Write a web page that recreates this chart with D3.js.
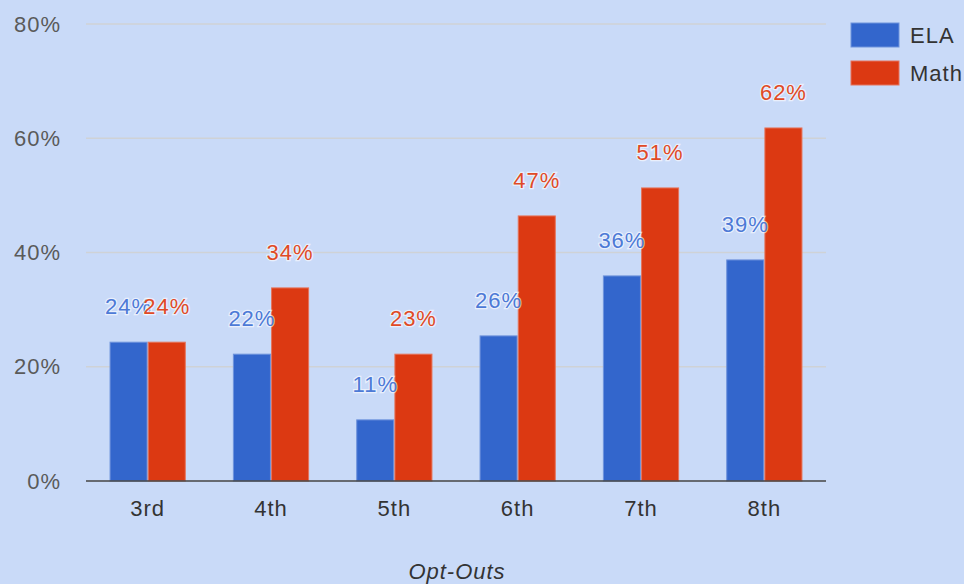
<!DOCTYPE html>
<html>
<head>
<meta charset="utf-8">
<script src="https://cdn.jsdelivr.net/npm/d3@7"></script>
<style>
  body { margin: 0; background: #c9daf8; }
  svg { display: block; font-family: "Liberation Sans", Arial, sans-serif; letter-spacing: 1px; }
</style>
</head>
<body>
<svg id="chart" width="964" height="584"></svg>
<script>
// chart data
const grades = ['3rd', '4th', '5th', '6th', '7th', '8th'];
const series = ['ELA', 'Math'];
const elaValues = [24.3, 22.2, 10.7, 25.4, 35.9, 38.7];
const mathValues = [24.3, 33.8, 22.2, 46.4, 51.3, 61.8];
const elaLabels = ['24%', '22%', '11%', '26%', '36%', '39%'];
const mathLabels = ['24%', '34%', '23%', '47%', '51%', '62%'];
const yTicks = [0, 20, 40, 60, 80];

const colors = { ELA: '#3366cc', Math: '#dc3912' };
const borders = { ELA: '#6f93dc', Math: '#e6735a' };
const labelColors = { ELA: '#4d7ad6', Math: '#e04a26' };

const svg = d3.select('#chart');
const W = 964, H = 584;
const margin = { top: 24, right: 138, bottom: 103, left: 86 };
const plotW = W - margin.left - margin.right;
const plotH = H - margin.top - margin.bottom;
const fs = 22;

svg.append('rect').attr('width', W).attr('height', H).attr('fill', '#c9daf8');

const g = svg.append('g').attr('transform', `translate(${margin.left},${margin.top})`);

const x = d3.scaleBand().domain(grades).range([0, plotW]).paddingInner(0.39).paddingOuter(0.195);
const xs = d3.scaleBand().domain(series).range([0, x.bandwidth()]).paddingInner(0.03);
const y = d3.scaleLinear().domain([0, 80]).range([plotH, 0]);

// gridlines
g.selectAll('line.grid')
  .data(yTicks.filter(d => d > 0))
  .join('line')
  .attr('class', 'grid')
  .attr('x1', 0).attr('x2', plotW)
  .attr('y1', d => y(d)).attr('y2', d => y(d))
  .attr('stroke', '#cfd2d6').attr('stroke-width', 1.5);

// y tick labels
g.selectAll('text.ytick')
  .data(yTicks)
  .join('text')
  .attr('class', 'ytick')
  .attr('x', -25)
  .attr('y', d => y(d))
  .attr('dy', '0.35em')
  .attr('text-anchor', 'end')
  .attr('font-size', fs)
  .attr('fill', '#5a5a5a')
  .text(d => d + '%');

const rows = grades.map((gr, i) => ({
  grade: gr,
  vals: [
    { key: 'ELA', v: elaValues[i], label: elaLabels[i] },
    { key: 'Math', v: mathValues[i], label: mathLabels[i] }
  ]
}));

const groups = g.selectAll('g.grade')
  .data(rows)
  .join('g')
  .attr('class', 'grade')
  .attr('transform', d => `translate(${x(d.grade)},0)`);

groups.selectAll('rect')
  .data(d => d.vals)
  .join('rect')
  .attr('x', d => xs(d.key))
  .attr('width', xs.bandwidth())
  .attr('y', d => y(d.v))
  .attr('height', d => plotH - y(d.v))
  .attr('fill', d => colors[d.key])
  .attr('stroke', d => borders[d.key])
  .attr('stroke-width', 1);

// baseline
g.append('line')
  .attr('x1', 0).attr('x2', plotW)
  .attr('y1', plotH).attr('y2', plotH)
  .attr('stroke', '#444').attr('stroke-width', 1.5);

// value labels with white halo
groups.selectAll('text.val')
  .data(d => d.vals)
  .join('text')
  .attr('class', 'val')
  .attr('x', d => xs(d.key) + xs.bandwidth() / 2)
  .attr('y', d => y(d.v) - 36)
  .attr('dy', '0.35em')
  .attr('text-anchor', 'middle')
  .attr('font-size', fs)
  .attr('fill', d => labelColors[d.key])
  .attr('stroke', '#ffffff')
  .attr('stroke-width', 2.5)
  .attr('stroke-opacity', 0.6)
  .attr('paint-order', 'stroke')
  .text(d => d.label);

// x tick labels
g.selectAll('text.xtick')
  .data(grades)
  .join('text')
  .attr('class', 'xtick')
  .attr('x', d => x(d) + x.bandwidth() / 2)
  .attr('y', plotH + 27)
  .attr('dy', '0.35em')
  .attr('text-anchor', 'middle')
  .attr('font-size', fs)
  .attr('fill', '#333')
  .text(d => d);

// axis title
g.append('text')
  .attr('x', plotW / 2 + 1)
  .attr('y', plotH + 90)
  .attr('dy', '0.35em')
  .attr('text-anchor', 'middle')
  .attr('font-size', fs)
  .attr('font-style', 'italic')
  .attr('fill', '#333')
  .text('Opt-Outs');

// legend
const legend = svg.append('g').attr('transform', 'translate(851,23)');
const li = legend.selectAll('g')
  .data(series)
  .join('g')
  .attr('transform', (d, i) => `translate(0,${i * 38})`);
li.append('rect')
  .attr('width', 48).attr('height', 24)
  .attr('fill', d => colors[d])
  .attr('stroke', d => borders[d]);
li.append('text')
  .attr('x', 59).attr('y', 12)
  .attr('dy', '0.35em')
  .attr('font-size', fs)
  .attr('fill', '#333')
  .text(d => d);
</script>
</body>
</html>
